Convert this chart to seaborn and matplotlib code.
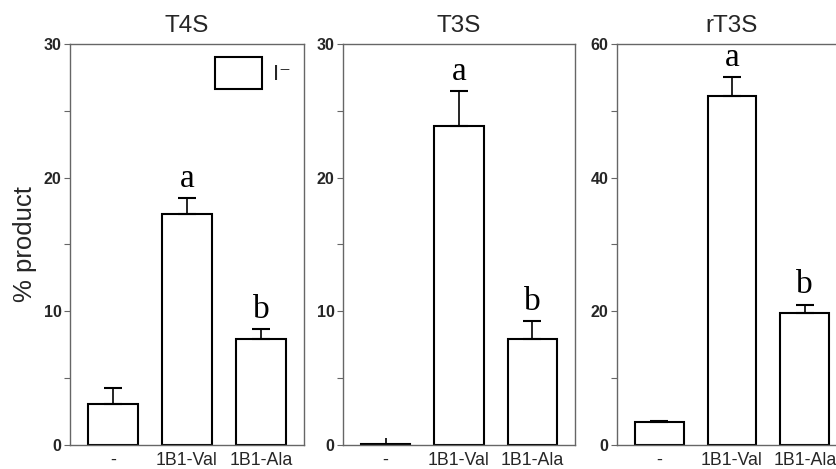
import matplotlib
matplotlib.use("Agg")
import matplotlib.pyplot as plt
import seaborn as sns
import pandas as pd
import numpy as np
from matplotlib.patches import Patch
from matplotlib.ticker import MultipleLocator

sns.set_theme(style="white")
plt.rcParams['font.family'] = ['Liberation Sans', 'DejaVu Sans']

categories = ["-", "1B1-Val", "1B1-Ala"]
titles = ["T4S", "T3S", "rT3S"]
t4s_values = [3.1, 17.3, 7.9]
t4s_errors = [1.2, 1.2, 0.8]
t3s_values = [0.05, 23.9, 7.9]
t3s_errors = [0.5, 2.6, 1.35]
rt3s_values = [3.4, 52.2, 19.8]
rt3s_errors = [0.2, 2.8, 1.2]
letters = ["", "a", "b"]
ylims = [30, 30, 60]
y_majors = [10, 10, 20]
legend_label = "I\u207b"

values_list = [t4s_values, t3s_values, rt3s_values]
errors_list = [t4s_errors, t3s_errors, rt3s_errors]
capsizes = [[6.5, 6.5, 6.5], [0, 6.5, 6.5], [6.5, 6.5, 6.5]]

W, H = 836, 469
fig = plt.figure(figsize=(W / 100, H / 100), dpi=100)
boxes = [(70, 304), (343, 575), (617, 847)]
top_px, bot_px = 44, 445

spine_color = "#666666"
for i, (l, r) in enumerate(boxes):
    ax = fig.add_axes([l / W, (H - bot_px) / H, (r - l) / W, (bot_px - top_px) / H])
    df = pd.DataFrame({"cat": categories, "val": values_list[i]})
    sns.barplot(data=df, x="cat", y="val", color="white", saturation=1,
                edgecolor="black", linewidth=1.5, width=0.67, errorbar=None, ax=ax)
    for j in range(3):
        ax.errorbar(j, values_list[i][j], yerr=[[0], [errors_list[i][j]]], fmt="none",
                    ecolor="black", elinewidth=1.2, capsize=capsizes[i][j],
                    capthick=1.5, zorder=5)
        if letters[j]:
            ax.annotate(letters[j], (j, values_list[i][j] + errors_list[i][j]),
                        xytext=(0, 3), textcoords="offset points",
                        ha="center", va="bottom", fontsize=24,
                        family="Liberation Serif", color="black")
    ax.set_xlim(-0.58, 2.58)
    ax.set_ylim(0, ylims[i])
    ax.yaxis.set_major_locator(MultipleLocator(y_majors[i]))
    ax.yaxis.set_minor_locator(MultipleLocator(y_majors[i] / 2))
    ax.tick_params(axis="y", which="both", direction="out", length=4, width=0.8,
                   color=spine_color, left=True, labelsize=11.5, pad=2)
    ax.tick_params(axis="x", length=0, labelsize=12.8, pad=5)
    for lab in ax.get_yticklabels():
        lab.set_fontweight("bold")
    for s in ax.spines.values():
        s.set_color(spine_color)
        s.set_linewidth(1.0)
    ax.set_xlabel("")
    ax.set_ylabel("")
    ax.set_title(titles[i], fontsize=17.5, pad=9)
    if i == 0:
        ax.set_ylabel("% product", fontsize=18.5, labelpad=5)
        h = Patch(facecolor="white", edgecolor="black", linewidth=1.5)
        ax.legend([h], [legend_label], loc="upper right", frameon=False,
                  fontsize=16, handlelength=2.1, handleheight=1.8,
                  handletextpad=0.5, borderaxespad=0.2, bbox_to_anchor=(1.0, 1.0))

fig.savefig("out.png", dpi=100)
